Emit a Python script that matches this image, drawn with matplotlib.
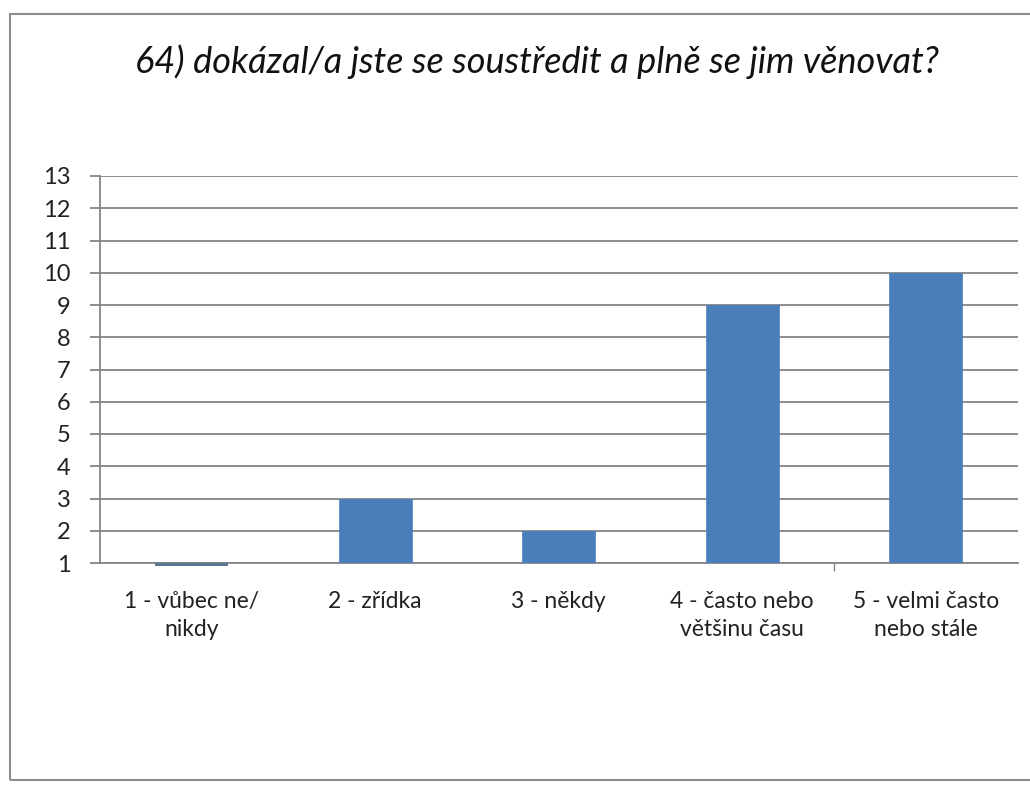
import matplotlib
matplotlib.use("Agg")
import matplotlib.pyplot as plt
from matplotlib.patches import Rectangle

categories = ["1 - vůbec ne/\nnikdy", "2 - zřídka", "3 - někdy",
              "4 - často nebo\nvětšinu času", "5 - velmi často\nnebo stále"]
values = [1, 3, 2, 9, 10]
y_ticks = list(range(1, 14))
title = "64) dokázal/a jste se soustředit a plně se jim věnovat?"

plt.rcParams['font.family'] = ['Lato', 'DejaVu Sans']

W, H = 1030, 785
fig = plt.figure(figsize=(W / 100, H / 100), dpi=100)
fig.patch.set_facecolor('white')

# chart border
fig.add_artist(Rectangle((10 / W, 5 / H), 1.2, 766 / H,
                         transform=fig.transFigure, fill=False,
                         edgecolor='#8c8c8c', linewidth=1.5))

ax = fig.add_axes([100 / W, 1 - 563 / H, (1017.5 - 100) / W, (563 - 176) / H])
x = list(range(len(categories)))
heights = [v - 1 for v in values]
ax.bar(x, heights, bottom=1, width=0.40, color='#4a7ebb',
       edgecolor='#4a7ebb', linewidth=0.5, zorder=3)
# zero-height bar is shown as a thin line in the reference
for xi, v in zip(x, values):
    if v - 1 == 0:
        ax.bar(xi, -0.09, bottom=1, width=0.40, color='#5b7896', zorder=3,
               clip_on=False)

ax.set_xlim(-0.5, len(categories) - 0.5)
ax.set_ylim(1, 13)
ax.set_yticks(y_ticks)
ax.set_yticklabels([str(t) for t in y_ticks], fontsize=17, color='#222222')
ax.yaxis.grid(True, color='#858585', linewidth=1.3, zorder=0)
ax.set_axisbelow(True)

ax.set_xticks(x)
ax.set_xticklabels(categories, fontsize=16.5, color='#222222', linespacing=1.4,
                   va='top')
ax.tick_params(axis='x', length=0, pad=20)
ax.set_xticks([3.5], minor=True)
ax.tick_params(axis='x', which='minor', length=6, color='#858585', width=1)
ax.tick_params(axis='y', length=7, color='#858585', width=1.3, pad=14)

for s in ['top', 'right']:
    ax.spines[s].set_visible(False)
ax.spines['left'].set_color('#858585')
ax.spines['left'].set_linewidth(1.3)
ax.spines['bottom'].set_color('#858585')
ax.spines['bottom'].set_linewidth(1.3)

fig.text(537 / W, 1 - 62 / H, title, fontsize=26, style='italic',
         ha='center', va='center', color='#111111')

fig.savefig("out.png", dpi=100, facecolor='white')
